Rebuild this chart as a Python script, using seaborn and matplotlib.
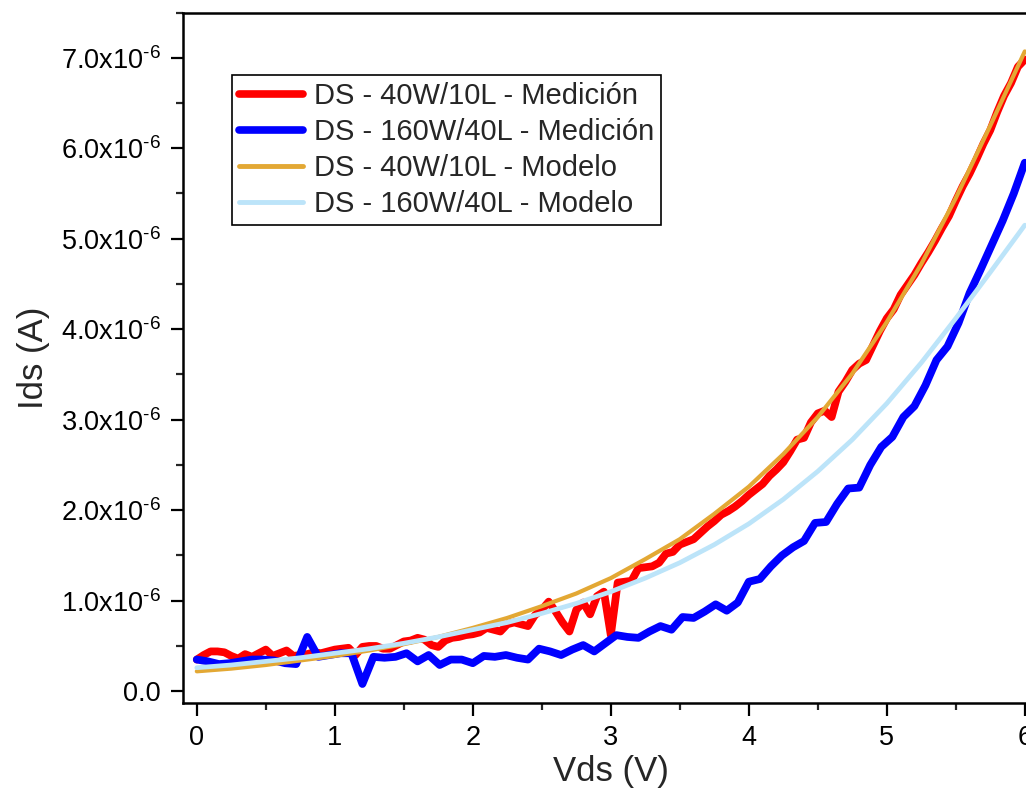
import numpy as np
import pandas as pd
import matplotlib
matplotlib.use("Agg")
import matplotlib.pyplot as plt
from matplotlib.ticker import FuncFormatter, MultipleLocator
import seaborn as sns

# ---------------- data (currents in microamps) -------------
red_vds = [round(0.05 * i, 2) for i in range(121)]
red_ids_uA = [
    0.35, 0.40, 0.44, 0.44, 0.43, 0.39, 0.36, 0.41, 0.38, 0.42,
    0.46, 0.39, 0.42, 0.45, 0.39, 0.40, 0.41, 0.43, 0.42, 0.44,
    0.46, 0.47, 0.48, 0.40, 0.49, 0.50, 0.50, 0.47, 0.47, 0.51,
    0.55, 0.56, 0.59, 0.57, 0.51, 0.49, 0.56, 0.59, 0.60, 0.62,
    0.63, 0.65, 0.70, 0.68, 0.66, 0.74, 0.76, 0.74, 0.72, 0.84,
    0.90, 0.99, 0.88, 0.76, 0.66, 0.90, 0.98, 0.85, 1.05, 1.10,
    0.62, 1.20, 1.21, 1.22, 1.36, 1.37, 1.38, 1.42, 1.52, 1.54,
    1.62, 1.65, 1.68, 1.75, 1.82, 1.88, 1.95, 1.99, 2.04, 2.10,
    2.17, 2.23, 2.29, 2.38, 2.45, 2.53, 2.65, 2.78, 2.80, 2.97,
    3.07, 3.10, 3.03, 3.31, 3.42, 3.55, 3.62, 3.66, 3.82, 3.98,
    4.12, 4.22, 4.38, 4.49, 4.60, 4.73, 4.85, 4.98, 5.12, 5.25,
    5.42, 5.58, 5.72, 5.88, 6.05, 6.20, 6.40, 6.58, 6.72, 6.90,
    6.98,
]

blue_vds = [round(0.08 * i, 2) for i in range(76)]
blue_ids_uA = [
    0.35, 0.33, 0.30, 0.31, 0.33, 0.35, 0.35, 0.34, 0.31, 0.30,
    0.60, 0.38, 0.40, 0.42, 0.42, 0.08, 0.38, 0.37, 0.38, 0.42,
    0.33, 0.40, 0.29, 0.35, 0.35, 0.31, 0.39, 0.38, 0.40, 0.37,
    0.35, 0.47, 0.44, 0.40, 0.46, 0.51, 0.44, 0.53, 0.62, 0.60,
    0.59, 0.66, 0.72, 0.68, 0.82, 0.81, 0.88, 0.96, 0.89, 0.98,
    1.21, 1.24, 1.38, 1.50, 1.59, 1.66, 1.86, 1.87, 2.07, 2.24,
    2.25, 2.50, 2.70, 2.81, 3.03, 3.15, 3.38, 3.66, 3.81, 4.07,
    4.40, 4.66, 4.93, 5.20, 5.50, 5.84,
]

model_vds = [round(0.25 * i, 2) for i in range(25)]
orange_ids_uA = [
    0.22, 0.25, 0.29, 0.34, 0.39, 0.45, 0.52, 0.60, 0.70, 0.81,
    0.94, 1.08, 1.25, 1.46, 1.68, 1.96, 2.26, 2.62, 3.03, 3.51,
    4.08, 4.72, 5.45, 6.25, 7.07,
]
lightblue_ids_uA = [
    0.26, 0.29, 0.33, 0.37, 0.42, 0.47, 0.53, 0.60, 0.68, 0.76,
    0.86, 0.97, 1.10, 1.25, 1.42, 1.62, 1.85, 2.12, 2.43, 2.78,
    3.18, 3.63, 4.12, 4.63, 5.15,
]

labels = [
    "DS - 40W/10L - Medición",
    "DS - 160W/40L - Medición",
    "DS - 40W/10L - Modelo",
    "DS - 160W/40L - Modelo",
]
colors = ["#FF0000", "#0000FF", "#E3A834", "#BCE4F9"]

# ---------------- style ----------------
sns.set_style("ticks")
plt.rcParams["font.family"] = ["Liberation Sans", "DejaVu Sans"]
plt.rcParams["mathtext.fontset"] = "custom"
plt.rcParams["mathtext.rm"] = "Liberation Sans"
plt.rcParams["mathtext.it"] = "Liberation Sans"
plt.rcParams["mathtext.default"] = "regular"

fig = plt.figure(figsize=(10.26, 7.94), dpi=100)
ax = fig.add_axes([183 / 1026, 1 - 703 / 794, 855.6 / 1026, 690.5 / 794])

series = [
    (red_vds, red_ids_uA, 5.6),
    (blue_vds, blue_ids_uA, 5.6),
    (model_vds, orange_ids_uA, 3.0),
    (model_vds, lightblue_ids_uA, 3.4),
]
for (xs, ys, lw), lab, col in zip(series, labels, colors):
    df = pd.DataFrame({"Vds": xs, "Ids": np.array(ys) * 1e-6})
    sns.lineplot(data=df, x="Vds", y="Ids", ax=ax, color=col, lw=lw,
                 label=lab, sort=False, estimator=None)

ax.set_xlim(-0.1, 6.1)
ax.set_ylim(-0.13e-6, 7.5e-6)

ax.xaxis.set_major_locator(MultipleLocator(1))
ax.xaxis.set_minor_locator(MultipleLocator(0.5))
ax.yaxis.set_major_locator(MultipleLocator(1e-6))
ax.yaxis.set_minor_locator(MultipleLocator(0.5e-6))


def yfmt(v, pos):
    m = v * 1e6
    if abs(m) < 1e-9:
        return "0.0"
    return f"{m:.1f}x10$^{{\\text{{-6}}}}$"


ax.yaxis.set_major_formatter(FuncFormatter(yfmt))
ax.xaxis.set_major_formatter(FuncFormatter(lambda v, p: f"{v:.0f}"))

for s in ax.spines.values():
    s.set_linewidth(1.8)
    s.set_color("black")

ax.tick_params(axis="both", which="major", direction="out", length=9, width=1.6,
               labelsize=19.5, pad=7, colors="black")
ax.tick_params(axis="both", which="minor", direction="out", length=5, width=1.6)

ax.set_xlabel("Vds (V)", fontsize=25, labelpad=3)
ax.set_ylabel("Ids (A)", fontsize=25, labelpad=8)

leg = ax.legend(loc="upper left", bbox_to_anchor=(232 / 1026, 1 - 75 / 794),
                bbox_transform=fig.transFigure, borderaxespad=0,
                fontsize=21, frameon=True, fancybox=False, framealpha=1,
                edgecolor="black", handlelength=2.2, handletextpad=0.35,
                labelspacing=0.27, borderpad=0.25)
leg.get_frame().set_linewidth(1.2)
lws = [5.5, 5.5, 3.5, 3.5]
for h, w in zip(leg.get_lines(), lws):
    h.set_linewidth(w)

fig.savefig("out.png", dpi=100)
